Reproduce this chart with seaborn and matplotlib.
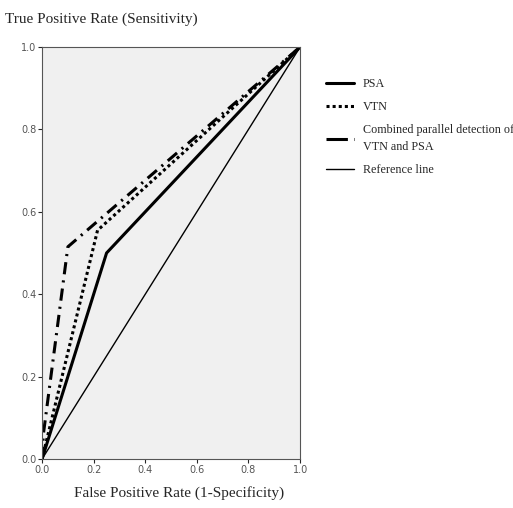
import pandas as pd
import matplotlib.pyplot as plt
from matplotlib.lines import Line2D
import seaborn as sns

# ROC points
psa_fpr = [0.0, 0.25, 1.0]
psa_tpr = [0.0, 0.50, 1.0]
vtn_fpr = [0.0, 0.215, 1.0]
vtn_tpr = [0.0, 0.555, 1.0]
comb_fpr = [0.0, 0.005, 0.10, 1.0]
comb_tpr = [0.0, 0.06, 0.515, 1.0]
ref_fpr = [0.0, 1.0]
ref_tpr = [0.0, 1.0]
ticks = [0.0, 0.2, 0.4, 0.6, 0.8, 1.0]

sns.set_style("ticks")
plt.rcParams['font.family'] = ['Liberation Serif', 'DejaVu Serif']

fig = plt.figure(figsize=(5.13, 5.08), dpi=100)
ax = fig.add_axes([0.082, 0.0965, 0.503, 0.811])
ax.set_facecolor("#f0f0f0")

series = [
    ("PSA", psa_fpr, psa_tpr, "-", 2.2),
    ("VTN", vtn_fpr, vtn_tpr, (0, (1, 1)), 2.2),
    ("Combined parallel detection of\nVTN and PSA", comb_fpr, comb_tpr, (0, (4, 2, 0.7, 2)), 2.2),
    ("Reference line", ref_fpr, ref_tpr, "-", 1.0),
]
for name, x, y, ls, lw in series:
    df = pd.DataFrame({"fpr": x, "tpr": y})
    sns.lineplot(data=df, x="fpr", y="tpr", ax=ax, sort=False, color="black",
                 linestyle=ls, linewidth=lw, label=name, legend=False)

ax.set_xlim(0, 1)
ax.set_ylim(0, 1)
ax.set_xticks(ticks)
ax.set_yticks(ticks)
ax.set_xticklabels([f"{t:.1f}" for t in ticks])
ax.set_yticklabels([f"{t:.1f}" for t in ticks])
ax.tick_params(labelsize=7, labelcolor="#555555", length=3, width=0.8, pad=1)
for lab in ax.get_xticklabels() + ax.get_yticklabels():
    lab.set_fontfamily("DejaVu Sans")
for sp in ax.spines.values():
    sp.set_color("#555555")
    sp.set_linewidth(0.8)

ax.set_xlabel("False Positive Rate (1-Specificity)", fontsize=11)
ax.xaxis.set_label_coords(0.53, -0.065)
ax.set_ylabel("")
fig.text(0.01, 0.948, "True Positive Rate (Sensitivity)", fontsize=11, ha="left", va="bottom")

handles, labels = ax.get_legend_handles_labels()
# legend key for the combined curve shows "dash + dot" like the original
handles[2] = Line2D([], [], color="black", linewidth=2.2, linestyle=(0, (7, 2, 1, 2)))
leg = fig.legend(handles, labels, loc="upper left", bbox_to_anchor=(0.615, 0.868),
                 frameon=False, fontsize=8.7, handlelength=2.3, handletextpad=0.7,
                 labelspacing=0.9)
leg.get_texts()[2].set_linespacing(1.6)

plt.savefig("out.png", dpi=100)
